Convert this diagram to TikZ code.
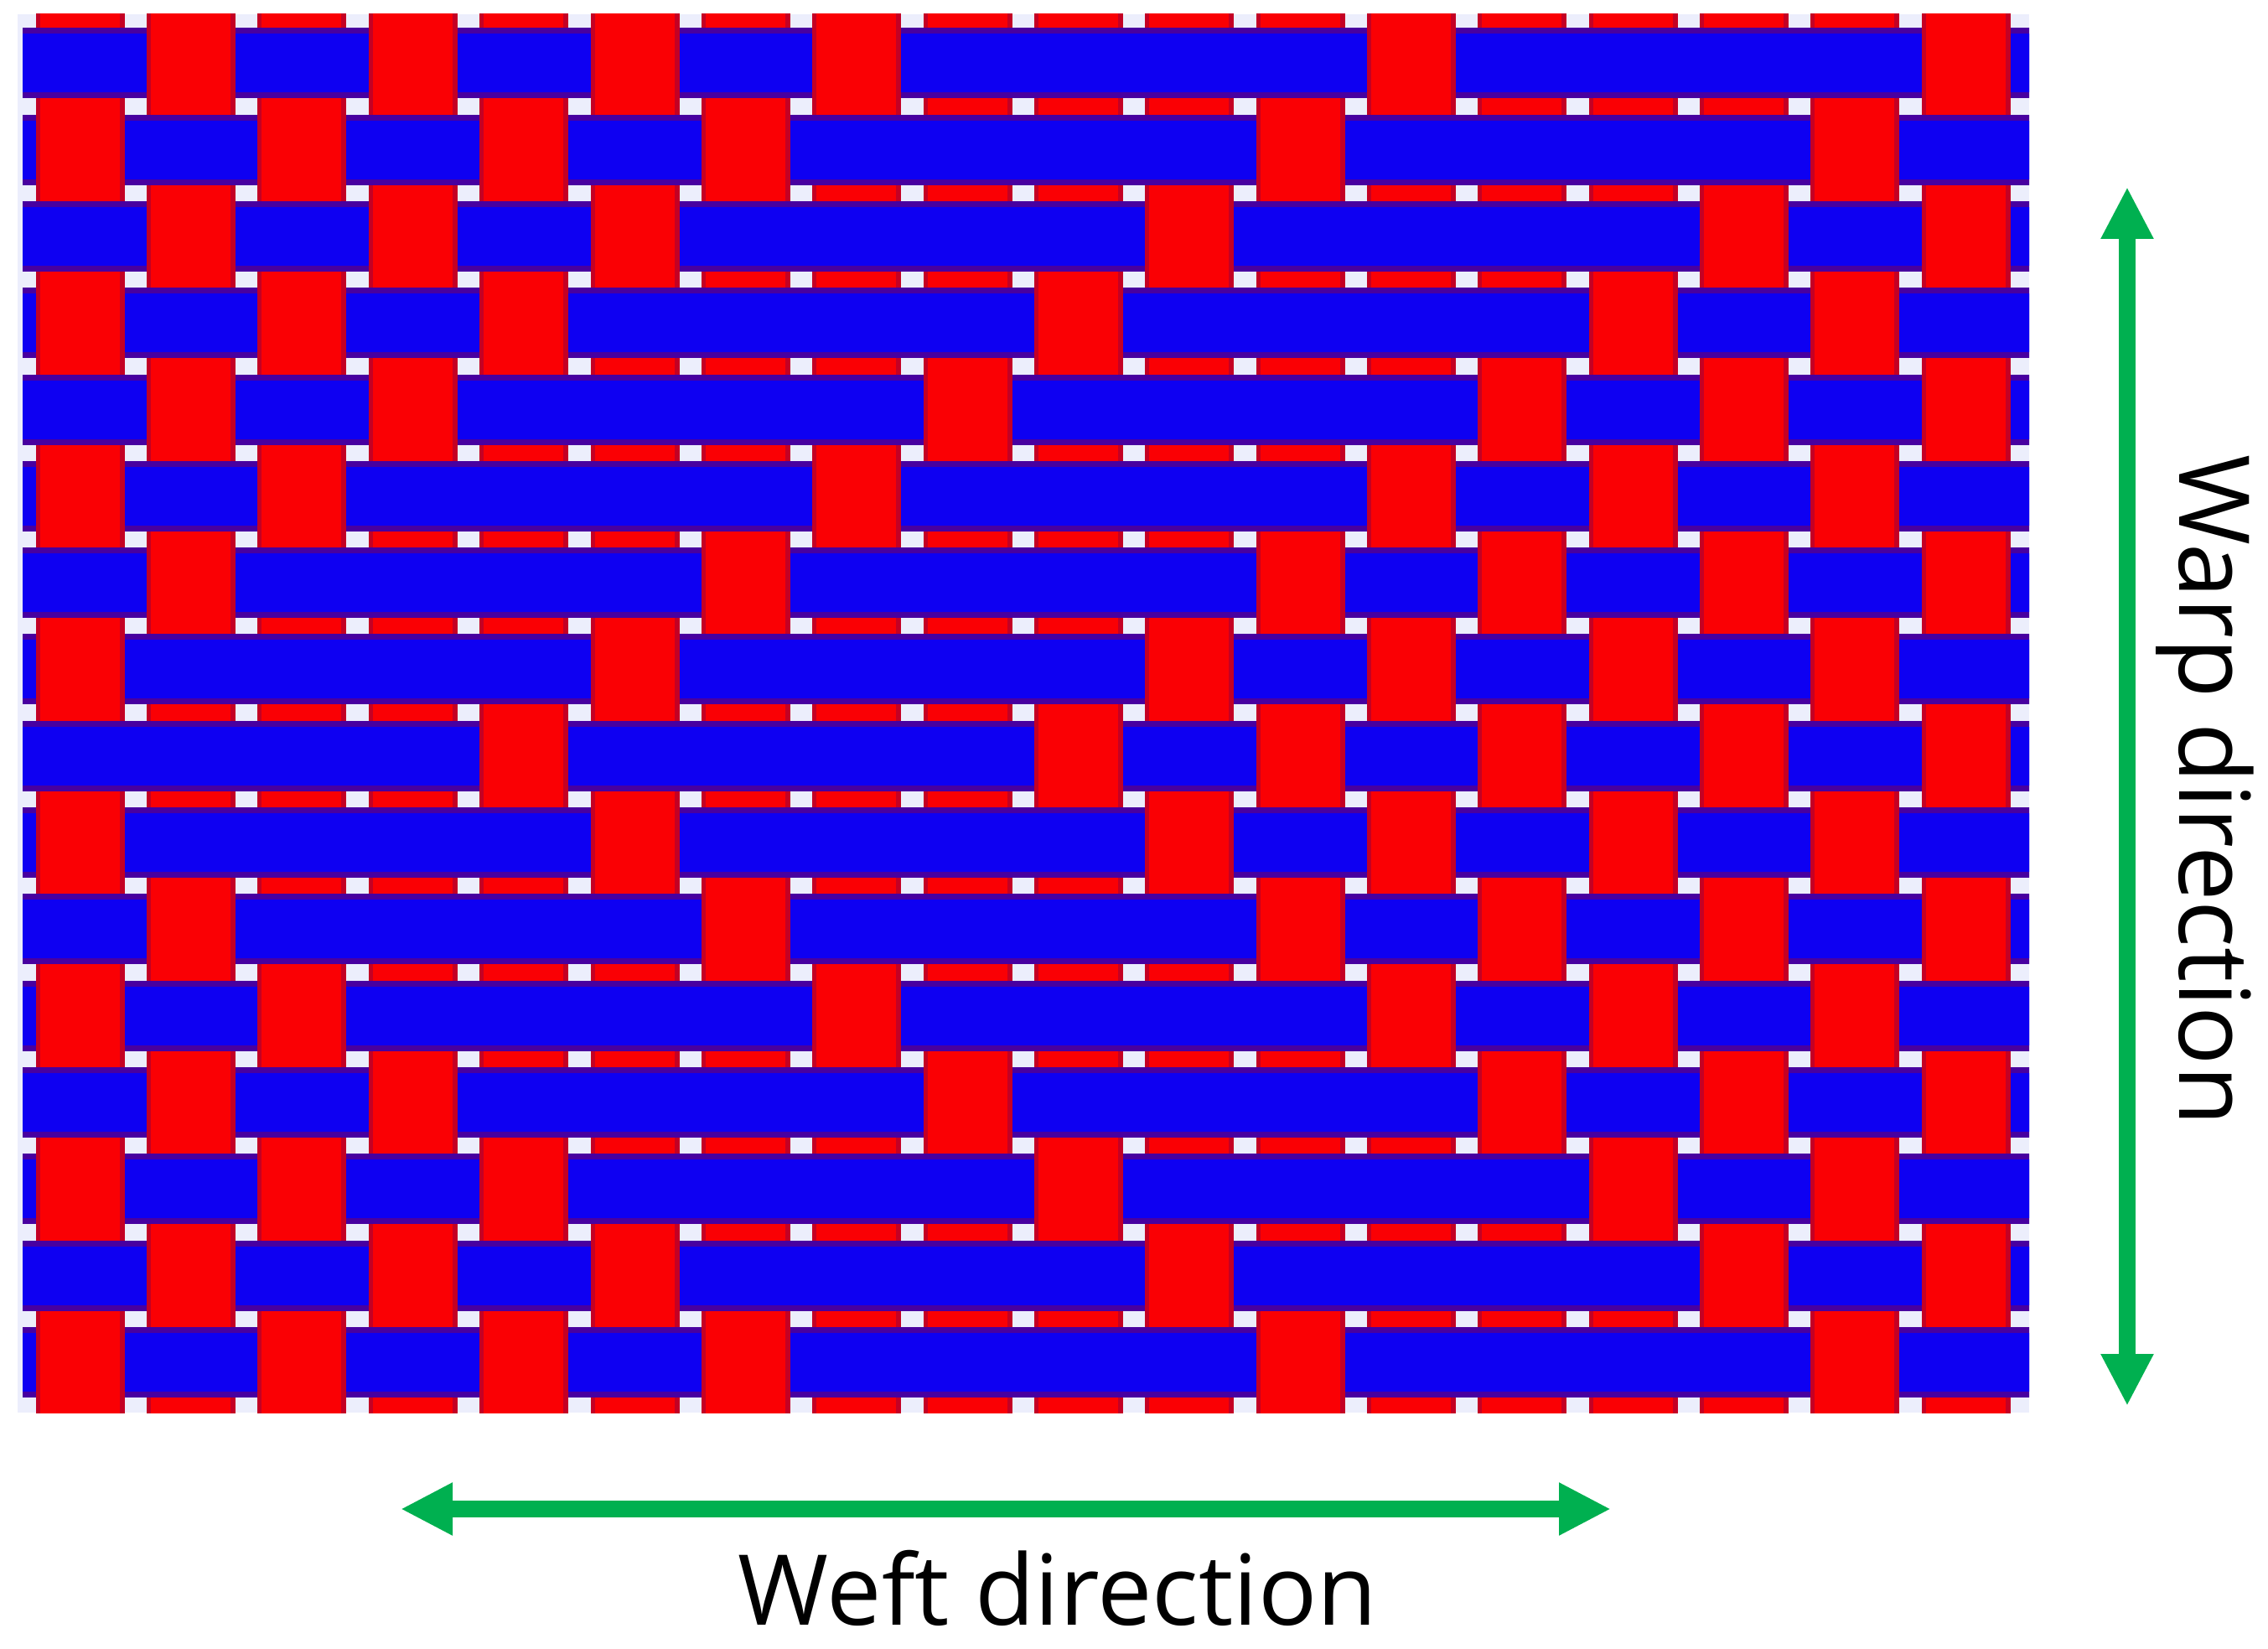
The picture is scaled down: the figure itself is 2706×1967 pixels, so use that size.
\documentclass[tikz,border=0pt]{standalone}
\usepackage{fontspec}
\setmainfont{Open Sans}
\usetikzlibrary{arrows.meta}
\definecolor{rr}{RGB}{250,0,4}
\definecolor{rdk}{RGB}{196,0,36}
\definecolor{bb}{RGB}{14,0,242}
\definecolor{bdk}{RGB}{72,0,160}
\definecolor{gapc}{RGB}{236,238,252}
\definecolor{arrgreen}{RGB}{0,176,80}
\tikzset{
  dirarrow/.style={draw=arrgreen, line width=6pt,
    {Triangle[length=18.6pt,width=17.6pt]}-{Triangle[length=18.6pt,width=17.6pt]}},
  dirlabel/.style={font=\fontsize{35pt}{42pt}\selectfont, text=black, inner sep=0pt, anchor=base}
}
\begin{document}
\begin{tikzpicture}[x=0.3pt,y=-0.3pt]
\useasboundingbox[fill=white] (0,0) rectangle (2706,1967);
\begin{scope}
  \clip (21,17) rectangle (2421,1685);
  \fill[gapc] (21,17) rectangle (2421,1685);
  % warp yarns (red columns)
  \foreach \c in {0,...,17}{
    \pgfmathsetmacro\xc{29.6+(\c+0.5)*132.35}
    \fill[rdk] (\xc-53,0) rectangle (\xc+53,1700);
    \fill[rr] (\xc-48,0) rectangle (\xc+47,1700);
  }
  % weft yarns (blue rows)
  \foreach \r in {0,...,15}{
    \pgfmathsetmacro\yc{23.7+(\r+0.5)*103.3}
    \fill[bdk] (27,\yc-42) rectangle (2500,\yc+42);
    \fill[bb] (27,\yc-35) rectangle (2500,\yc+35);
  }
  % warp floats over the weft
  \foreach \r/\cl in {0/{1,3,5,7,12,17},1/{0,2,4,6,11,16},2/{1,3,5,10,15,17},
      3/{0,2,4,9,14,16},4/{1,3,8,13,15,17},5/{0,2,7,12,14,16},6/{1,6,11,13,15,17},
      7/{0,5,10,12,14,16},8/{4,9,11,13,15,17},9/{0,5,10,12,14,16},10/{1,6,11,13,15,17},
      11/{0,2,7,12,14,16},12/{1,3,8,13,15,17},13/{0,2,4,9,14,16},14/{1,3,5,10,15,17},
      15/{0,2,4,6,11,16}}{
    \pgfmathsetmacro\yc{23.7+(\r+0.5)*103.3}
    \foreach \c in \cl {
      \pgfmathsetmacro\xc{29.6+(\c+0.5)*132.35}
      \fill[rdk] (\xc-53,\yc-42.5) rectangle (\xc+53,\yc+42.5);
      \fill[rr] (\xc-48,\yc-42.5) rectangle (\xc+47,\yc+42.5);
    }
  }
\end{scope}
% direction arrows
\coordinate (warpTop) at (2538,223);
\coordinate (warpBot) at (2538,1677);
\coordinate (weftL) at (478,1800);
\coordinate (weftR) at (1922,1800);
\draw[dirarrow] (warpTop) -- (warpBot);
\draw[dirarrow] (weftL) -- (weftR);
% labels
\node[dirlabel] (weftlab) at (1262,1938) {Weft direction};
\node[dirlabel, rotate=-90] (warplab) at (2600,943) {Warp direction};
\end{tikzpicture}
\end{document}
